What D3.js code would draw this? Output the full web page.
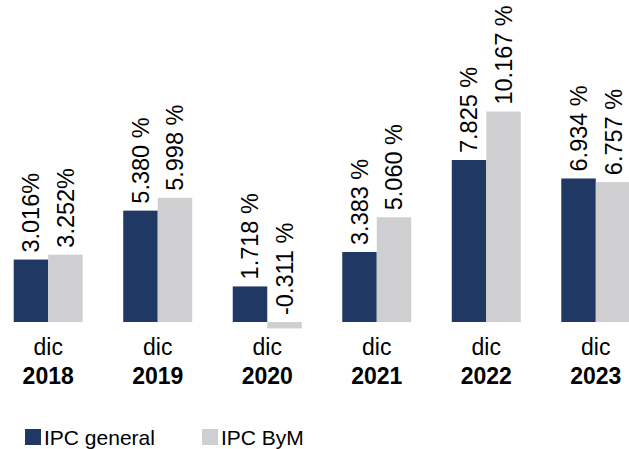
<!DOCTYPE html>
<html>
<head>
<meta charset="utf-8">
<script src="https://cdn.jsdelivr.net/npm/d3@7"></script>
<style>
  body { margin: 0; background: #fff; }
  text { font-family: "Liberation Sans", Arial, sans-serif; fill: #000; }
</style>
</head>
<body>
<div id="chart"></div>
<script>
// Datos
const years = ["2018", "2019", "2020", "2021", "2022", "2023"]
const series = ["IPC general", "IPC ByM"]
const ipcGeneral = [3.016, 5.380, 1.718, 3.383, 7.825, 6.934]
const ipcByM = [3.252, 5.998, -0.311, 5.060, 10.167, 6.757]
const labelsGeneral = ["3.016%", "5.380 %", "1.718 %", "3.383 %", "7.825 %", "6.934 %"]
const labelsByM = ["3.252%", "5.998 %", "-0.311 %", "5.060 %", "10.167 %", "6.757 %"]

const colors = ["#203864", "#cfcfd1"]

// Constantes
const width = 629
const height = 449
const baseline = 322

const svg = d3.select("#chart").append("svg").attr("width", width).attr("height", height)

const x = d3.scaleBand().domain(years).range([-6, 650]).paddingInner(0.37).paddingOuter(0.18)
const xs = d3.scaleBand().domain(series).range([0, x.bandwidth()])
const y = d3.scaleLinear().domain([0, 10]).range([baseline, 115])

const rows = years.map((yr, i) => ({
    year: yr,
    vals: [
        {s: series[0], v: ipcGeneral[i], label: labelsGeneral[i]},
        {s: series[1], v: ipcByM[i], label: labelsByM[i]}
    ]
}))

const groups = svg.append("g").selectAll("g").data(rows).enter().append("g")
    .attr("transform", d => `translate(${x(d.year)},0)`)

// Barras
groups.selectAll("rect").data(d => d.vals).enter().append("rect")
    .attr("x", d => xs(d.s))
    .attr("width", xs.bandwidth())
    .attr("y", d => y(Math.max(0, d.v)))
    .attr("height", d => Math.abs(y(d.v) - y(0)))
    .attr("fill", (d, i) => colors[i])

// Etiquetas rotadas
groups.selectAll("text.val").data(d => d.vals).enter().append("text")
    .attr("class", "val")
    .attr("transform", d => `translate(${xs(d.s) + xs.bandwidth() / 2},${y(Math.max(0, d.v)) - 7}) rotate(-90)`)
    .attr("dy", "0.36em")
    .attr("font-size", 23.5)
    .text(d => d.label)

// Eje x: "dic" y año
const xAxis = svg.append("g")
xAxis.selectAll("text.mes").data(years).enter().append("text")
    .attr("x", d => x(d) + x.bandwidth() / 2)
    .attr("y", 355)
    .attr("text-anchor", "middle")
    .attr("font-size", 23)
    .text("dic")
xAxis.selectAll("text.anio").data(years).enter().append("text")
    .attr("x", d => x(d) + x.bandwidth() / 2)
    .attr("y", 384)
    .attr("text-anchor", "middle")
    .attr("font-size", 23)
    .attr("font-weight", "bold")
    .text(d => d)

// Leyenda
const legendX = [25, 202]
const legend = svg.append("g").selectAll("g").data(series).enter().append("g")
    .attr("transform", (d, i) => `translate(${legendX[i]},429)`)
legend.append("rect").attr("width", 16).attr("height", 16).attr("fill", (d, i) => colors[i])
legend.append("text").attr("x", 19).attr("y", 16).attr("font-size", 21).text(d => d)
</script>
</body>
</html>
